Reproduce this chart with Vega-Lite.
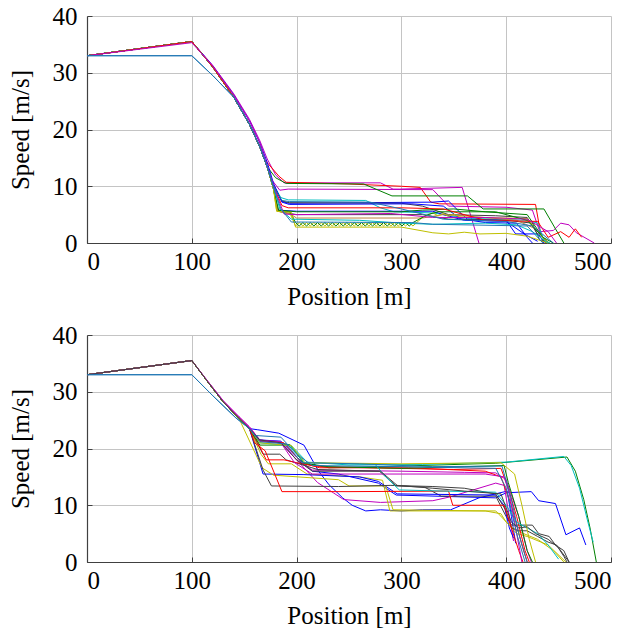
{
  "$schema": "https://vega.github.io/schema/vega-lite/v6.json",
  "padding": {"left": 8, "top": 4, "right": 0, "bottom": 4},
  "spacing": 14,
  "resolve": {"scale": {"color": "independent"}},
  "config": {
    "view": {"stroke": null},
    "axis": {"labelFont": "Liberation Serif", "titleFont": "Liberation Serif", "labelFontSize": 25, "titleFontSize": 25, "titleFontWeight": "normal", "labelColor": "#000", "titleColor": "#000", "gridColor": "#c4c4c4", "gridWidth": 1, "domainColor": "#404040", "domainWidth": 1.2, "tickColor": "#404040", "tickSize": -5},
    "axisX": {"labelPadding": 11, "titlePadding": 10},
    "axisY": {"labelPadding": 15, "titlePadding": 19}
  },
  "datasets": {
    "top": [
      {"s":"T1","x":0,"y":33},{"s":"T1","x":100,"y":35.5},{"s":"T1","x":120,"y":31.3},{"s":"T1","x":140,"y":26.3},{"s":"T1","x":155,"y":21.8},{"s":"T1","x":165,"y":18},{"s":"T1","x":172,"y":14.8},{"s":"T1","x":180,"y":12},{"s":"T1","x":188,"y":10.6},{"s":"T1","x":280,"y":10.6},{"s":"T1","x":292,"y":9.5},{"s":"T1","x":298,"y":9.5},{"s":"T1","x":358,"y":9.8},{"s":"T1","x":374,"y":0},
      {"s":"T2","x":0,"y":33},{"s":"T2","x":100,"y":35.5},{"s":"T2","x":120,"y":31},{"s":"T2","x":140,"y":25.7},{"s":"T2","x":155,"y":20.9},{"s":"T2","x":165,"y":16.9},{"s":"T2","x":169,"y":14.8},{"s":"T2","x":183,"y":11.8},{"s":"T2","x":190,"y":10.7},{"s":"T2","x":250,"y":10.4},{"s":"T2","x":300,"y":10.0},{"s":"T2","x":318,"y":9.8},{"s":"T2","x":328,"y":7.2},{"s":"T2","x":336,"y":6.9},{"s":"T2","x":428,"y":6.8},{"s":"T2","x":433,"y":1.5},{"s":"T2","x":440,"y":0},
      {"s":"T3","x":0,"y":33},{"s":"T3","x":100,"y":35.5},{"s":"T3","x":120,"y":31},{"s":"T3","x":140,"y":25.7},{"s":"T3","x":155,"y":20.9},{"s":"T3","x":165,"y":16.9},{"s":"T3","x":172,"y":13.4},{"s":"T3","x":176,"y":11.2},{"s":"T3","x":184,"y":9.3},{"s":"T3","x":192,"y":9.5},{"s":"T3","x":330,"y":9.4},{"s":"T3","x":345,"y":6.5},{"s":"T3","x":400,"y":6.3},{"s":"T3","x":425,"y":5.8},{"s":"T3","x":432,"y":2.0},{"s":"T3","x":445,"y":2.2},{"s":"T3","x":452,"y":3.5},{"s":"T3","x":460,"y":3.2},{"s":"T3","x":467,"y":1.8},{"s":"T3","x":484,"y":0},
      {"s":"T4","x":0,"y":33},{"s":"T4","x":100,"y":35.5},{"s":"T4","x":120,"y":31},{"s":"T4","x":140,"y":25.7},{"s":"T4","x":155,"y":20.9},{"s":"T4","x":165,"y":16.9},{"s":"T4","x":172,"y":13.4},{"s":"T4","x":180,"y":11.5},{"s":"T4","x":190,"y":10.5},{"s":"T4","x":264,"y":10.4},{"s":"T4","x":291,"y":8.3},{"s":"T4","x":363,"y":8.3},{"s":"T4","x":378,"y":6.0},{"s":"T4","x":436,"y":6.0},{"s":"T4","x":447,"y":2.5},{"s":"T4","x":455,"y":0},
      {"s":"T5","x":0,"y":33},{"s":"T5","x":100,"y":35.5},{"s":"T5","x":120,"y":31},{"s":"T5","x":140,"y":25.7},{"s":"T5","x":155,"y":20.9},{"s":"T5","x":165,"y":16.9},{"s":"T5","x":172,"y":13.4},{"s":"T5","x":178,"y":10.2},{"s":"T5","x":185,"y":8},{"s":"T5","x":192,"y":7.6},{"s":"T5","x":266,"y":7.5},{"s":"T5","x":280,"y":6.2},{"s":"T5","x":293,"y":5.5},{"s":"T5","x":330,"y":5.3},{"s":"T5","x":360,"y":4.4},{"s":"T5","x":420,"y":4.0},{"s":"T5","x":430,"y":3.5},{"s":"T5","x":436,"y":0.5},{"s":"T5","x":442,"y":0},
      {"s":"T6","x":0,"y":33},{"s":"T6","x":100,"y":35.5},{"s":"T6","x":120,"y":31},{"s":"T6","x":140,"y":25.7},{"s":"T6","x":155,"y":20.9},{"s":"T6","x":165,"y":16.9},{"s":"T6","x":172,"y":13.4},{"s":"T6","x":178,"y":10.2},{"s":"T6","x":186,"y":7.3},{"s":"T6","x":193,"y":7.0},{"s":"T6","x":330,"y":7.2},{"s":"T6","x":345,"y":7.4},{"s":"T6","x":357,"y":5.2},{"s":"T6","x":363,"y":4.2},{"s":"T6","x":400,"y":4.0},{"s":"T6","x":409,"y":1.6},{"s":"T6","x":431,"y":1.6},{"s":"T6","x":436,"y":0},
      {"s":"T7","x":0,"y":33},{"s":"T7","x":100,"y":35.5},{"s":"T7","x":120,"y":31},{"s":"T7","x":140,"y":25.7},{"s":"T7","x":155,"y":20.9},{"s":"T7","x":165,"y":16.9},{"s":"T7","x":172,"y":13.4},{"s":"T7","x":178,"y":10.0},{"s":"T7","x":186,"y":7.4},{"s":"T7","x":193,"y":7.1},{"s":"T7","x":300,"y":7.0},{"s":"T7","x":320,"y":6.5},{"s":"T7","x":345,"y":5.0},{"s":"T7","x":390,"y":4.8},{"s":"T7","x":420,"y":4.5},{"s":"T7","x":430,"y":1.5},{"s":"T7","x":438,"y":0},
      {"s":"T8","x":0,"y":33},{"s":"T8","x":100,"y":35.5},{"s":"T8","x":120,"y":31.2},{"s":"T8","x":140,"y":26.1},{"s":"T8","x":155,"y":21.5},{"s":"T8","x":165,"y":17.6},{"s":"T8","x":172,"y":14.2},{"s":"T8","x":178,"y":10.5},{"s":"T8","x":186,"y":7.2},{"s":"T8","x":193,"y":6.8},{"s":"T8","x":310,"y":6.9},{"s":"T8","x":340,"y":6.5},{"s":"T8","x":356,"y":4.3},{"s":"T8","x":380,"y":3.6},{"s":"T8","x":410,"y":3.5},{"s":"T8","x":420,"y":1.0},{"s":"T8","x":425,"y":0},
      {"s":"T9","x":0,"y":33},{"s":"T9","x":100,"y":35.5},{"s":"T9","x":120,"y":31},{"s":"T9","x":140,"y":25.7},{"s":"T9","x":155,"y":20.9},{"s":"T9","x":165,"y":16.9},{"s":"T9","x":172,"y":13.4},{"s":"T9","x":178,"y":9.5},{"s":"T9","x":182,"y":5.8},{"s":"T9","x":200,"y":5.6},{"s":"T9","x":330,"y":5.6},{"s":"T9","x":340,"y":5.0},{"s":"T9","x":360,"y":4.0},{"s":"T9","x":400,"y":3.8},{"s":"T9","x":418,"y":1.5},{"s":"T9","x":430,"y":0.3},
      {"s":"T10","x":0,"y":33},{"s":"T10","x":100,"y":35.5},{"s":"T10","x":120,"y":31},{"s":"T10","x":140,"y":25.7},{"s":"T10","x":155,"y":20.9},{"s":"T10","x":165,"y":16.9},{"s":"T10","x":172,"y":13.4},{"s":"T10","x":178,"y":9.5},{"s":"T10","x":182,"y":5.8},{"s":"T10","x":200,"y":5.5},{"s":"T10","x":300,"y":5.5},{"s":"T10","x":320,"y":5.8},{"s":"T10","x":350,"y":6.0},{"s":"T10","x":380,"y":5.5},{"s":"T10","x":420,"y":5.0},{"s":"T10","x":435,"y":1.0},{"s":"T10","x":440,"y":0},
      {"s":"T11","x":0,"y":33},{"s":"T11","x":100,"y":35.5},{"s":"T11","x":120,"y":31},{"s":"T11","x":140,"y":25.7},{"s":"T11","x":155,"y":20.9},{"s":"T11","x":165,"y":16.9},{"s":"T11","x":172,"y":13.4},{"s":"T11","x":178,"y":9.5},{"s":"T11","x":182,"y":5.6},{"s":"T11","x":200,"y":5.0},{"s":"T11","x":320,"y":5.0},{"s":"T11","x":345,"y":4.2},{"s":"T11","x":400,"y":4.0},{"s":"T11","x":425,"y":3.5},{"s":"T11","x":432,"y":0.5},{"s":"T11","x":440,"y":0},
      {"s":"T12","x":0,"y":33},{"s":"T12","x":100,"y":35.5},{"s":"T12","x":120,"y":31},{"s":"T12","x":140,"y":25.7},{"s":"T12","x":155,"y":20.9},{"s":"T12","x":165,"y":16.9},{"s":"T12","x":172,"y":13.4},{"s":"T12","x":178,"y":9.5},{"s":"T12","x":182,"y":5.6},{"s":"T12","x":195,"y":5.0},{"s":"T12","x":200,"y":4.4},{"s":"T12","x":320,"y":4.4},{"s":"T12","x":340,"y":5.0},{"s":"T12","x":360,"y":4.8},{"s":"T12","x":410,"y":4.0},{"s":"T12","x":428,"y":2.5},{"s":"T12","x":440,"y":0},
      {"s":"T13","x":0,"y":33},{"s":"T13","x":100,"y":35.5},{"s":"T13","x":120,"y":31},{"s":"T13","x":140,"y":25.7},{"s":"T13","x":155,"y":20.9},{"s":"T13","x":165,"y":16.9},{"s":"T13","x":172,"y":13.4},{"s":"T13","x":178,"y":9.5},{"s":"T13","x":181,"y":5.6},{"s":"T13","x":193,"y":5.5},
      {"s":"T13","x":199,"y":3.0},{"s":"T13","x":202.5,"y":3.6},{"s":"T13","x":206,"y":3.0},{"s":"T13","x":209.5,"y":3.6},{"s":"T13","x":213,"y":3.0},{"s":"T13","x":216.5,"y":3.6},{"s":"T13","x":220,"y":3.0},{"s":"T13","x":223.5,"y":3.6},{"s":"T13","x":227,"y":3.0},{"s":"T13","x":230.5,"y":3.6},{"s":"T13","x":234,"y":3.0},{"s":"T13","x":237.5,"y":3.6},{"s":"T13","x":241,"y":3.0},{"s":"T13","x":244.5,"y":3.6},{"s":"T13","x":248,"y":3.0},{"s":"T13","x":251.5,"y":3.6},{"s":"T13","x":255,"y":3.0},{"s":"T13","x":258.5,"y":3.6},{"s":"T13","x":262,"y":3.0},{"s":"T13","x":265.5,"y":3.6},{"s":"T13","x":269,"y":3.0},{"s":"T13","x":272.5,"y":3.6},{"s":"T13","x":276,"y":3.0},{"s":"T13","x":279.5,"y":3.6},{"s":"T13","x":283,"y":3.0},{"s":"T13","x":286.5,"y":3.6},{"s":"T13","x":290,"y":3.0},{"s":"T13","x":293.5,"y":3.6},{"s":"T13","x":297,"y":3.0},{"s":"T13","x":300.5,"y":3.6},{"s":"T13","x":304,"y":3.0},{"s":"T13","x":307.5,"y":3.6},{"s":"T13","x":311,"y":3.0},
      {"s":"T13","x":320,"y":4.5},{"s":"T13","x":330,"y":5.3},{"s":"T13","x":335,"y":4.8},{"s":"T13","x":340,"y":5.2},{"s":"T13","x":345,"y":4.7},{"s":"T13","x":350,"y":5.1},{"s":"T13","x":355,"y":4.6},{"s":"T13","x":420,"y":4.3},{"s":"T13","x":430,"y":2},{"s":"T13","x":440,"y":0},
      {"s":"T14","x":0,"y":33},{"s":"T14","x":100,"y":35.5},{"s":"T14","x":120,"y":31},{"s":"T14","x":140,"y":25.7},{"s":"T14","x":155,"y":20.9},{"s":"T14","x":165,"y":16.9},{"s":"T14","x":172,"y":13.4},{"s":"T14","x":178,"y":9.6},{"s":"T14","x":183,"y":5.7},{"s":"T14","x":194,"y":5.5},
      {"s":"T14","x":199,"y":3.6},{"s":"T14","x":202.5,"y":3.0},{"s":"T14","x":206,"y":3.6},{"s":"T14","x":209.5,"y":3.0},{"s":"T14","x":213,"y":3.6},{"s":"T14","x":216.5,"y":3.0},{"s":"T14","x":220,"y":3.6},{"s":"T14","x":223.5,"y":3.0},{"s":"T14","x":227,"y":3.6},{"s":"T14","x":230.5,"y":3.0},{"s":"T14","x":234,"y":3.6},{"s":"T14","x":237.5,"y":3.0},{"s":"T14","x":241,"y":3.6},{"s":"T14","x":244.5,"y":3.0},{"s":"T14","x":248,"y":3.6},{"s":"T14","x":251.5,"y":3.0},{"s":"T14","x":255,"y":3.6},{"s":"T14","x":258.5,"y":3.0},{"s":"T14","x":262,"y":3.6},{"s":"T14","x":265.5,"y":3.0},{"s":"T14","x":269,"y":3.6},{"s":"T14","x":272.5,"y":3.0},{"s":"T14","x":276,"y":3.6},{"s":"T14","x":279.5,"y":3.0},{"s":"T14","x":283,"y":3.6},{"s":"T14","x":286.5,"y":3.0},{"s":"T14","x":290,"y":3.6},{"s":"T14","x":293.5,"y":3.0},{"s":"T14","x":297,"y":3.6},{"s":"T14","x":300.5,"y":3.0},{"s":"T14","x":304,"y":3.6},{"s":"T14","x":307.5,"y":3.0},{"s":"T14","x":311,"y":3.6},
      {"s":"T14","x":325,"y":5.0},{"s":"T14","x":335,"y":5.5},{"s":"T14","x":390,"y":5.5},{"s":"T14","x":420,"y":4.0},{"s":"T14","x":435,"y":1},{"s":"T14","x":445,"y":0},
      {"s":"T15","x":0,"y":33},{"s":"T15","x":100,"y":35.5},{"s":"T15","x":120,"y":31},{"s":"T15","x":140,"y":25.7},{"s":"T15","x":155,"y":20.9},{"s":"T15","x":165,"y":16.9},{"s":"T15","x":172,"y":13.4},{"s":"T15","x":178,"y":9.5},{"s":"T15","x":181,"y":5.6},{"s":"T15","x":195,"y":5.4},{"s":"T15","x":199,"y":2.8},{"s":"T15","x":300,"y":2.8},{"s":"T15","x":330,"y":1.8},{"s":"T15","x":345,"y":1.6},{"s":"T15","x":360,"y":1.9},{"s":"T15","x":375,"y":1.6},{"s":"T15","x":400,"y":1.7},{"s":"T15","x":420,"y":1.2},{"s":"T15","x":440,"y":0},
      {"s":"T16","x":0,"y":33},{"s":"T16","x":100,"y":35.5},{"s":"T16","x":120,"y":31},{"s":"T16","x":140,"y":25.7},{"s":"T16","x":155,"y":20.9},{"s":"T16","x":165,"y":16.9},{"s":"T16","x":172,"y":13.4},{"s":"T16","x":178,"y":9.8},{"s":"T16","x":184,"y":6},{"s":"T16","x":195,"y":4.2},{"s":"T16","x":260,"y":4.0},{"s":"T16","x":300,"y":3.5},{"s":"T16","x":330,"y":3.3},{"s":"T16","x":380,"y":3.5},{"s":"T16","x":410,"y":3.2},{"s":"T16","x":425,"y":2.0},{"s":"T16","x":440,"y":0},
      {"s":"T17","x":0,"y":33},{"s":"T17","x":100,"y":35.5},{"s":"T17","x":120,"y":31},{"s":"T17","x":140,"y":25.7},{"s":"T17","x":155,"y":20.9},{"s":"T17","x":165,"y":16.9},{"s":"T17","x":172,"y":13.4},{"s":"T17","x":178,"y":10},{"s":"T17","x":186,"y":6.6},{"s":"T17","x":192,"y":6.2},{"s":"T17","x":300,"y":6.2},{"s":"T17","x":340,"y":6.0},{"s":"T17","x":380,"y":4.0},{"s":"T17","x":430,"y":3.8},{"s":"T17","x":440,"y":1.0},{"s":"T17","x":452,"y":2.0},{"s":"T17","x":460,"y":1.0},{"s":"T17","x":466,"y":2.5},{"s":"T17","x":472,"y":1.0},
      {"s":"T18","x":0,"y":33},{"s":"T18","x":100,"y":35.3},{"s":"T18","x":120,"y":31.2},{"s":"T18","x":140,"y":26.1},{"s":"T18","x":155,"y":21.5},{"s":"T18","x":165,"y":17.6},{"s":"T18","x":174,"y":12.5},{"s":"T18","x":182,"y":8},{"s":"T18","x":188,"y":5.1},{"s":"T18","x":200,"y":5.0},{"s":"T18","x":290,"y":5.2},{"s":"T18","x":330,"y":4.5},{"s":"T18","x":380,"y":4.5},{"s":"T18","x":420,"y":4.2},{"s":"T18","x":440,"y":2.0},{"s":"T18","x":448,"y":0},
      {"s":"T19","x":0,"y":33},{"s":"T19","x":100,"y":33},{"s":"T19","x":120,"y":29.5},{"s":"T19","x":140,"y":25.7},{"s":"T19","x":155,"y":20.9},{"s":"T19","x":165,"y":16.9},{"s":"T19","x":172,"y":13.4},{"s":"T19","x":178,"y":9.8},{"s":"T19","x":185,"y":6},{"s":"T19","x":195,"y":3.7},{"s":"T19","x":310,"y":3.6},{"s":"T19","x":330,"y":3.3},{"s":"T19","x":420,"y":3.0},{"s":"T19","x":435,"y":0},
      {"s":"T20","x":0,"y":33},{"s":"T20","x":100,"y":33},{"s":"T20","x":120,"y":29.5},{"s":"T20","x":140,"y":25.7},{"s":"T20","x":155,"y":20.9},{"s":"T20","x":165,"y":16.9},{"s":"T20","x":172,"y":13.4},{"s":"T20","x":178,"y":10},{"s":"T20","x":186,"y":7.5},{"s":"T20","x":193,"y":7.3},{"s":"T20","x":270,"y":7.2},{"s":"T20","x":300,"y":6.0},{"s":"T20","x":340,"y":4.2},{"s":"T20","x":400,"y":3.8},{"s":"T20","x":425,"y":3.0},{"s":"T20","x":445,"y":0}
    ],
    "bottom": [
      {"s":"B1","x":0,"y":33},{"s":"B1","x":100,"y":35.5},{"s":"B1","x":115,"y":31.8},{"s":"B1","x":130,"y":28.2},{"s":"B1","x":145,"y":25.3},{"s":"B1","x":155,"y":23.5},{"s":"B1","x":163,"y":23.3},{"s":"B1","x":183,"y":22.7},{"s":"B1","x":207,"y":20.6},{"s":"B1","x":221,"y":16},{"s":"B1","x":231,"y":13.6},{"s":"B1","x":244,"y":11.3},{"s":"B1","x":253,"y":10},{"s":"B1","x":266,"y":9.0},{"s":"B1","x":280,"y":9.2},{"s":"B1","x":300,"y":9.0},{"s":"B1","x":320,"y":9.2},{"s":"B1","x":347,"y":9.2},{"s":"B1","x":374,"y":11.3},{"s":"B1","x":401,"y":12.5},{"s":"B1","x":405,"y":8},{"s":"B1","x":409,"y":3.3},
      {"s":"B2","x":0,"y":33},{"s":"B2","x":100,"y":35.5},{"s":"B2","x":115,"y":31.8},{"s":"B2","x":130,"y":28.2},{"s":"B2","x":145,"y":25.3},{"s":"B2","x":155,"y":23.5},{"s":"B2","x":162,"y":21.5},{"s":"B2","x":183,"y":21.0},{"s":"B2","x":194,"y":20.6},{"s":"B2","x":207,"y":17.4},{"s":"B2","x":231,"y":16.6},{"s":"B2","x":300,"y":16.9},{"s":"B2","x":390,"y":17.4},{"s":"B2","x":458,"y":18.5},{"s":"B2","x":466,"y":16},{"s":"B2","x":474,"y":11},{"s":"B2","x":480,"y":6},{"s":"B2","x":486,"y":0},
      {"s":"B3","x":0,"y":33},{"s":"B3","x":100,"y":35.5},{"s":"B3","x":115,"y":31.8},{"s":"B3","x":130,"y":28.2},{"s":"B3","x":145,"y":25.3},{"s":"B3","x":155,"y":23.5},{"s":"B3","x":162,"y":21.6},{"s":"B3","x":183,"y":21.0},{"s":"B3","x":195,"y":20.5},{"s":"B3","x":210,"y":17.6},{"s":"B3","x":250,"y":17.1},{"s":"B3","x":320,"y":17.2},{"s":"B3","x":400,"y":17.6},{"s":"B3","x":455,"y":18.6},{"s":"B3","x":462,"y":17},{"s":"B3","x":470,"y":13},{"s":"B3","x":478,"y":7},{"s":"B3","x":483,"y":3.5},
      {"s":"B4","x":0,"y":33},{"s":"B4","x":100,"y":35.5},{"s":"B4","x":115,"y":31.8},{"s":"B4","x":130,"y":28.2},{"s":"B4","x":145,"y":25.3},{"s":"B4","x":155,"y":23.5},{"s":"B4","x":165,"y":21.5},{"s":"B4","x":185,"y":21.3},{"s":"B4","x":200,"y":18.5},{"s":"B4","x":215,"y":16.0},{"s":"B4","x":240,"y":15.5},{"s":"B4","x":278,"y":13.9},{"s":"B4","x":295,"y":11.8},{"s":"B4","x":390,"y":11.3},{"s":"B4","x":400,"y":12.2},{"s":"B4","x":424,"y":12.4},{"s":"B4","x":431,"y":10.8},{"s":"B4","x":447,"y":10.3},{"s":"B4","x":457,"y":4.8},{"s":"B4","x":470,"y":6.0},{"s":"B4","x":476,"y":3.0},
      {"s":"B5","x":0,"y":33},{"s":"B5","x":100,"y":35.5},{"s":"B5","x":115,"y":31.8},{"s":"B5","x":130,"y":28.3},{"s":"B5","x":145,"y":25.5},{"s":"B5","x":155,"y":23.7},{"s":"B5","x":165,"y":21.3},{"s":"B5","x":185,"y":21},{"s":"B5","x":200,"y":18},{"s":"B5","x":220,"y":14},{"s":"B5","x":235,"y":12.2},{"s":"B5","x":245,"y":11},{"s":"B5","x":280,"y":10.5},{"s":"B5","x":330,"y":10.8},{"s":"B5","x":347,"y":11.5},{"s":"B5","x":390,"y":13.9},{"s":"B5","x":398,"y":13.5},{"s":"B5","x":403,"y":8},{"s":"B5","x":407,"y":3.7},
      {"s":"B6","x":0,"y":33},{"s":"B6","x":100,"y":35.5},{"s":"B6","x":115,"y":31.9},{"s":"B6","x":130,"y":28.4},{"s":"B6","x":145,"y":25.6},{"s":"B6","x":155,"y":23.8},{"s":"B6","x":165,"y":21.5},{"s":"B6","x":185,"y":21.2},{"s":"B6","x":200,"y":18},{"s":"B6","x":215,"y":16.2},{"s":"B6","x":300,"y":16.0},{"s":"B6","x":360,"y":15.8},{"s":"B6","x":390,"y":15.7},{"s":"B6","x":400,"y":14.5},{"s":"B6","x":412,"y":8},{"s":"B6","x":420,"y":2},{"s":"B6","x":424,"y":0},
      {"s":"B7","x":0,"y":33},{"s":"B7","x":100,"y":35.5},{"s":"B7","x":115,"y":31.8},{"s":"B7","x":130,"y":28.2},{"s":"B7","x":145,"y":25.3},{"s":"B7","x":155,"y":23.5},{"s":"B7","x":165,"y":21.3},{"s":"B7","x":188,"y":21},{"s":"B7","x":205,"y":17.5},{"s":"B7","x":222,"y":16.6},{"s":"B7","x":307,"y":16.6},{"s":"B7","x":380,"y":16.0},{"s":"B7","x":395,"y":15.0},{"s":"B7","x":405,"y":10},{"s":"B7","x":415,"y":3},{"s":"B7","x":420,"y":0},
      {"s":"B8","x":0,"y":33},{"s":"B8","x":100,"y":35.5},{"s":"B8","x":115,"y":31.8},{"s":"B8","x":130,"y":28.2},{"s":"B8","x":145,"y":25.3},{"s":"B8","x":155,"y":23.5},{"s":"B8","x":168,"y":19},{"s":"B8","x":184,"y":19},{"s":"B8","x":190,"y":18},{"s":"B8","x":220,"y":16.3},{"s":"B8","x":279,"y":16},{"s":"B8","x":295,"y":13.4},{"s":"B8","x":322,"y":13.2},{"s":"B8","x":338,"y":11.6},{"s":"B8","x":390,"y":11.6},{"s":"B8","x":400,"y":8},{"s":"B8","x":405,"y":6.5},{"s":"B8","x":425,"y":6.5},{"s":"B8","x":431,"y":5},{"s":"B8","x":441,"y":4.5},{"s":"B8","x":447,"y":3.0},{"s":"B8","x":455,"y":2},{"s":"B8","x":460,"y":0},
      {"s":"B9","x":0,"y":33},{"s":"B9","x":100,"y":35.5},{"s":"B9","x":115,"y":31.8},{"s":"B9","x":130,"y":28.2},{"s":"B9","x":145,"y":25.3},{"s":"B9","x":155,"y":23.5},{"s":"B9","x":166,"y":19},{"s":"B9","x":173,"y":17.3},{"s":"B9","x":195,"y":17.3},{"s":"B9","x":210,"y":15.5},{"s":"B9","x":260,"y":15.0},{"s":"B9","x":282,"y":14.4},{"s":"B9","x":289,"y":9.0},{"s":"B9","x":390,"y":9.0},{"s":"B9","x":403,"y":6.5},{"s":"B9","x":410,"y":5},{"s":"B9","x":420,"y":4.5},{"s":"B9","x":440,"y":3},{"s":"B9","x":457,"y":0},
      {"s":"B10","x":0,"y":33},{"s":"B10","x":100,"y":35.5},{"s":"B10","x":115,"y":31.8},{"s":"B10","x":130,"y":28.2},{"s":"B10","x":145,"y":25.3},{"s":"B10","x":155,"y":23.5},{"s":"B10","x":168,"y":15.5},{"s":"B10","x":207,"y":15.4},{"s":"B10","x":260,"y":15},{"s":"B10","x":278,"y":14.2},{"s":"B10","x":296,"y":12.0},{"s":"B10","x":390,"y":11.8},{"s":"B10","x":398,"y":10},{"s":"B10","x":403,"y":6},{"s":"B10","x":407,"y":4.2},
      {"s":"B11","x":0,"y":33},{"s":"B11","x":100,"y":35.5},{"s":"B11","x":115,"y":31.8},{"s":"B11","x":130,"y":28.2},{"s":"B11","x":145,"y":25.3},{"s":"B11","x":167,"y":16.6},{"s":"B11","x":178,"y":15.3},{"s":"B11","x":240,"y":14.5},{"s":"B11","x":250,"y":13.4},{"s":"B11","x":285,"y":13.4},{"s":"B11","x":292,"y":9.2},{"s":"B11","x":380,"y":9.0},{"s":"B11","x":395,"y":8.5},{"s":"B11","x":400,"y":7},{"s":"B11","x":410,"y":5.5},{"s":"B11","x":430,"y":4},{"s":"B11","x":445,"y":2},{"s":"B11","x":455,"y":0},
      {"s":"B12","x":0,"y":33},{"s":"B12","x":100,"y":35.5},{"s":"B12","x":115,"y":31.8},{"s":"B12","x":130,"y":28.2},{"s":"B12","x":145,"y":25.3},{"s":"B12","x":155,"y":23.5},{"s":"B12","x":168,"y":16.2},{"s":"B12","x":176,"y":13.4},{"s":"B12","x":240,"y":13.3},{"s":"B12","x":290,"y":13.5},{"s":"B12","x":330,"y":13.3},{"s":"B12","x":360,"y":13},{"s":"B12","x":390,"y":12.0},{"s":"B12","x":400,"y":9},{"s":"B12","x":405,"y":6},{"s":"B12","x":412,"y":5.5},{"s":"B12","x":420,"y":5.5},{"s":"B12","x":430,"y":4.5},{"s":"B12","x":440,"y":3.5},{"s":"B12","x":448,"y":3},{"s":"B12","x":455,"y":1},{"s":"B12","x":458,"y":0},
      {"s":"B13","x":0,"y":33},{"s":"B13","x":100,"y":35.5},{"s":"B13","x":115,"y":31.8},{"s":"B13","x":130,"y":28.2},{"s":"B13","x":145,"y":25.3},{"s":"B13","x":155,"y":23.5},{"s":"B13","x":160,"y":21},{"s":"B13","x":170,"y":19.6},{"s":"B13","x":186,"y":12.4},{"s":"B13","x":250,"y":12.4},{"s":"B13","x":345,"y":12.5},{"s":"B13","x":349,"y":10.0},{"s":"B13","x":398,"y":10.0},{"s":"B13","x":405,"y":6},{"s":"B13","x":412,"y":2},{"s":"B13","x":416,"y":0},
      {"s":"B14","x":0,"y":33},{"s":"B14","x":100,"y":35.5},{"s":"B14","x":115,"y":31.8},{"s":"B14","x":130,"y":28.2},{"s":"B14","x":145,"y":25.3},{"s":"B14","x":155,"y":23.5},{"s":"B14","x":163,"y":21},{"s":"B14","x":171,"y":18},{"s":"B14","x":188,"y":18},{"s":"B14","x":200,"y":17.5},{"s":"B14","x":220,"y":16.8},{"s":"B14","x":300,"y":16.5},{"s":"B14","x":350,"y":16.3},{"s":"B14","x":395,"y":16.5},{"s":"B14","x":402,"y":13},{"s":"B14","x":410,"y":8},{"s":"B14","x":418,"y":2},{"s":"B14","x":422,"y":0},
      {"s":"B15","x":0,"y":33},{"s":"B15","x":100,"y":35.5},{"s":"B15","x":115,"y":31.8},{"s":"B15","x":130,"y":28.2},{"s":"B15","x":145,"y":25.3},{"s":"B15","x":155,"y":23.5},{"s":"B15","x":165,"y":20.6},{"s":"B15","x":194,"y":20.6},{"s":"B15","x":207,"y":17.4},{"s":"B15","x":230,"y":16.8},{"s":"B15","x":300,"y":16.5},{"s":"B15","x":360,"y":16.8},{"s":"B15","x":398,"y":17},{"s":"B15","x":402,"y":14},{"s":"B15","x":412,"y":8},{"s":"B15","x":420,"y":2},{"s":"B15","x":425,"y":0},
      {"s":"B16","x":0,"y":33},{"s":"B16","x":100,"y":35.5},{"s":"B16","x":115,"y":31.8},{"s":"B16","x":130,"y":28.2},{"s":"B16","x":145,"y":25.3},{"s":"B16","x":155,"y":23.5},{"s":"B16","x":165,"y":21},{"s":"B16","x":194,"y":20.5},{"s":"B16","x":207,"y":17.5},{"s":"B16","x":275,"y":17.2},{"s":"B16","x":285,"y":15},{"s":"B16","x":298,"y":12.7},{"s":"B16","x":340,"y":12.5},{"s":"B16","x":390,"y":12.3},{"s":"B16","x":400,"y":10},{"s":"B16","x":410,"y":7},{"s":"B16","x":420,"y":6},{"s":"B16","x":430,"y":5},{"s":"B16","x":440,"y":3},{"s":"B16","x":450,"y":0.5},
      {"s":"B17","x":0,"y":33},{"s":"B17","x":100,"y":35.5},{"s":"B17","x":115,"y":31.8},{"s":"B17","x":130,"y":28.2},{"s":"B17","x":145,"y":25.3},{"s":"B17","x":155,"y":23.5},{"s":"B17","x":165,"y":21},{"s":"B17","x":195,"y":20.5},{"s":"B17","x":208,"y":17.5},{"s":"B17","x":300,"y":17.3},{"s":"B17","x":395,"y":17.5},{"s":"B17","x":408,"y":15.5},{"s":"B17","x":415,"y":10},{"s":"B17","x":422,"y":4},{"s":"B17","x":428,"y":0},
      {"s":"B18","x":0,"y":33},{"s":"B18","x":100,"y":35.5},{"s":"B18","x":115,"y":31.9},{"s":"B18","x":130,"y":28.4},{"s":"B18","x":145,"y":25.6},{"s":"B18","x":155,"y":23.8},{"s":"B18","x":165,"y":21.4},{"s":"B18","x":185,"y":21},{"s":"B18","x":198,"y":17.5},{"s":"B18","x":215,"y":15.5},{"s":"B18","x":300,"y":15.5},{"s":"B18","x":380,"y":15.5},{"s":"B18","x":398,"y":15},{"s":"B18","x":403,"y":12},{"s":"B18","x":410,"y":5},{"s":"B18","x":415,"y":0},
      {"s":"B19","x":0,"y":33},{"s":"B19","x":100,"y":33},{"s":"B19","x":120,"y":29.3},{"s":"B19","x":142,"y":25.4},{"s":"B19","x":155,"y":23.5},{"s":"B19","x":160,"y":22.3},{"s":"B19","x":185,"y":22},{"s":"B19","x":200,"y":19},{"s":"B19","x":215,"y":17},{"s":"B19","x":300,"y":16.8},{"s":"B19","x":390,"y":16.5},{"s":"B19","x":400,"y":13},{"s":"B19","x":410,"y":5},{"s":"B19","x":418,"y":0},
      {"s":"B20","x":0,"y":33},{"s":"B20","x":100,"y":35.5},{"s":"B20","x":115,"y":31.8},{"s":"B20","x":130,"y":28.2},{"s":"B20","x":145,"y":25.3},{"s":"B20","x":155,"y":23.5},{"s":"B20","x":165,"y":21.5},{"s":"B20","x":185,"y":21},{"s":"B20","x":200,"y":18},{"s":"B20","x":215,"y":16},{"s":"B20","x":280,"y":16},{"s":"B20","x":296,"y":13.5},{"s":"B20","x":330,"y":13},{"s":"B20","x":360,"y":12.5},{"s":"B20","x":395,"y":12},{"s":"B20","x":405,"y":7},{"s":"B20","x":412,"y":6},{"s":"B20","x":420,"y":6.2},{"s":"B20","x":428,"y":5},{"s":"B20","x":440,"y":4},{"s":"B20","x":450,"y":2.5},{"s":"B20","x":460,"y":0},
      {"s":"B21","x":0,"y":33},{"s":"B21","x":100,"y":33},{"s":"B21","x":120,"y":29.3},{"s":"B21","x":142,"y":25.4},{"s":"B21","x":155,"y":23.5},{"s":"B21","x":165,"y":21.2},{"s":"B21","x":190,"y":20.8},{"s":"B21","x":205,"y":17.5},{"s":"B21","x":260,"y":17.3},{"s":"B21","x":330,"y":16.8},{"s":"B21","x":396,"y":16.9},{"s":"B21","x":405,"y":11},{"s":"B21","x":412,"y":5},{"s":"B21","x":420,"y":0}
    ]
  },
  "vconcat": [
    {
      "data": {"name": "top"},
      "width": 524,
      "height": 227,
      "mark": {"type": "line", "strokeWidth": 1},
      "encoding": {
        "x": {"field": "x", "type": "quantitative", "scale": {"domain": [0, 500], "nice": false}, "axis": {"values": [0, 100, 200, 300, 400, 500], "title": "Position [m]"}},
        "y": {"field": "y", "type": "quantitative", "scale": {"domain": [0, 40], "nice": false}, "axis": {"values": [0, 10, 20, 30, 40], "title": "Speed [m/s]"}},
        "color": {"field": "s", "type": "nominal", "legend": null, "scale": {"domain": ["T1","T2","T3","T4","T5","T6","T7","T8","T9","T10","T11","T12","T13","T14","T15","T16","T17","T18","T19","T20"], "range": ["#bf00bf","#ff0000","#bf00bf","#008000","#00bfbf","#0000ff","#404040","#0000ff","#0000ff","#008000","#404040","#bf8040","#bfbf00","#008000","#bfbf00","#00bfbf","#ff0000","#bf00bf","#1f77b4","#1f77b4"]}}
      }
    },
    {
      "data": {"name": "bottom"},
      "width": 524,
      "height": 227,
      "mark": {"type": "line", "strokeWidth": 1},
      "encoding": {
        "x": {"field": "x", "type": "quantitative", "scale": {"domain": [0, 500], "nice": false}, "axis": {"values": [0, 100, 200, 300, 400, 500], "title": "Position [m]"}},
        "y": {"field": "y", "type": "quantitative", "scale": {"domain": [0, 40], "nice": false}, "axis": {"values": [0, 10, 20, 30, 40], "title": "Speed [m/s]"}},
        "color": {"field": "s", "type": "nominal", "legend": null, "scale": {"domain": ["B1","B2","B3","B4","B5","B6","B7","B8","B9","B10","B11","B12","B13","B14","B15","B16","B17","B18","B19","B20","B21"], "range": ["#0000ff","#008000","#00bfbf","#0000ff","#bf00bf","#bf00bf","#ff0000","#404040","#bfbf00","#0000ff","#bfbf00","#404040","#ff0000","#ff0000","#008000","#00bfbf","#bfbf00","#bf00bf","#1f77b4","#404040","#1f77b4"]}}
      }
    }
  ]
}
